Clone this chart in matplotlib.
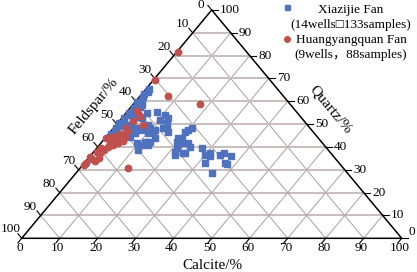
import matplotlib
matplotlib.use("Agg")
import matplotlib.pyplot as plt
from matplotlib.lines import Line2D

# Xiazijie Fan (blue squares): calcite % and quartz %, feldspar = 100 - both
xz_calcite = [0.8, 1.2, 0.6, 1.0, 1.5, 0.7, 1.2, 0.9, 1.6, 0.8, 1.3, 0.7, 1.1, 0.5, 1.4, 0.8, 1.0, 0.6, 1.3,
              0.7, 2.3, 1.5, 3.2, 3.7, 5.3, 3.5, 3.7, 6.2, 8.7, 8.5, 9.7, 11.4, 10.3, 13.2, 9.5, 11.7, 12.9,
              10.7, 12.3, 14.1, 15.2, 20.1, 19.3, 21.7, 21.1, 23.9, 22.1, 2.4, 5.5, 7.8, 10.5, 13.0, 7.6,
              7.0, 5.2, 4.6, 6.8, 6.3, 11.3, 11.3, 12.6, 11.3, 11.1, 19.6, 20.2, 19.6, 20.8, 21.4, 23.0,
              13.2, 24.3, 24.2, 27.7, 30.0, 31.6, 31.6, 33.9, 34.7, 37.0, 37.0, 37.7, 35.9, 20.6, 31.0]
xz_quartz = [65.5, 64.2, 63.0, 61.8, 60.5, 59.5, 58.3, 57.2, 56.0, 55.0, 53.8, 52.6, 51.5, 50.4, 49.2, 48.1, 47.0, 45.8, 44.6,
             59.1, 57.6, 54.8, 53.3, 54.0, 52.6, 51.8, 49.6, 48.2, 47.4, 49.6, 48.2, 47.4, 46.0, 43.8, 41.6, 42.3, 40.9,
             54.0, 52.6, 48.2, 46.7, 47.4, 43.8, 41.6, 39.4, 37.2, 36.5, 58.4, 54.8, 55.5, 51.8, 50.4, 49.6,
             47.4, 47.4, 46.0, 46.0, 44.5, 46.7, 42.3, 42.3, 38.7, 40.9, 46.7, 43.8, 42.3, 40.9, 37.9, 41.6,
             48.2, 39.9, 37.5, 39.4, 36.5, 36.0, 33.2, 36.5, 37.2, 36.2, 33.1, 32.4, 28.5, 48.2, 37.2]

# Huangyangquan Fan (red circles)
hy_calcite = [0.4, 0.4, 7.4, 17.5, 2.4, 7.1, 3.3, 3.0, 1.6, 3.0, 4.5, 5.4, 3.6, 2.4, 2.7, 2.3, 1.9, 0.9,
              2.7, 2.3, 1.2, 0.4, 0.3, 0.2, 12.6, 4.4, 5.0, 2.7, 4.2, 4.3, 3.6, 0.2, 1.1]
hy_quartz = [81.5, 69.3, 62.3, 58.8, 55.8, 49.6, 48.3, 45.7, 44.4, 43.1, 41.7, 42.6, 40.9, 41.7, 40.0, 38.7, 37.4, 37.8,
             35.2, 33.9, 34.7, 33.0, 32.1, 35.6, 30.8, 43.9, 44.4, 44.8, 47.0, 53.6, 51.4, 43.9, 39.6]

ticks = [0, 10, 20, 30, 40, 50, 60, 70, 80, 90, 100]

serif = "Liberation Serif"
mixed = ["Liberation Serif", "Noto Sans CJK SC", "DejaVu Sans"]


def tern(c, q):
    # x = calcite + quartz/2, y = quartz
    return [ci + qi / 2 for ci, qi in zip(c, q)], list(q)


fig = plt.figure(figsize=(4.17, 2.72), dpi=100)
ax = fig.add_axes([0, 0, 1, 1])
ax.set_xlim(-21.7 / 3.8, (417 - 21.7) / 3.8)
ax.set_ylim(-(272 - 238.3) / 2.283, 238.3 / 2.283)
ax.axis("off")

# grid
for v in ticks[1:-1]:
    ax.plot([v / 2, 100 - v / 2], [v, v], color="#c9bdbd", lw=1.4, zorder=1)
    ax.plot([v, v + (100 - v) / 2], [0, 100 - v], color="#aea5a5", lw=0.75, zorder=1)
    ax.plot([100 - v, (100 - v) / 2], [0, 100 - v], color="#aea5a5", lw=0.75, zorder=1)

# triangle
ax.plot([0, 100, 50, 0], [0, 0, 100, 0], color="black", lw=1.1, zorder=2)

# ticks and labels
t = 2.0
for v in ticks:
    # calcite (bottom)
    ax.plot([v, v - 0.5 * t], [0, -t], color="black", lw=0.8)
    ax.text(v - 0.53, -4.4, str(v), ha="center", va="center", fontsize=9.5, family=serif)
    # feldspar (left)
    xd, q = (100 - v) / 2, 100 - v
    ax.plot([xd, xd - 0.5 * t], [q, q + t], color="black", lw=0.8)
    if v == 0:
        ax.text(48.0, 102.2, "0", ha="right", va="center", fontsize=9.5, family=serif)
    elif v == 100:
        ax.text(-0.3, q + 3.9, str(v), ha="right", va="center", fontsize=9.5, family=serif)
    else:
        ax.text(xd - 0.92, q + 3.9, str(v), ha="right", va="center", fontsize=9.5, family=serif)
    # quartz (right)
    xd, q = 100 - v / 2, v
    ax.plot([xd, xd + 1.6], [q, q], color="black", lw=0.8)
    if v == 0:
        ax.text(xd + 1.7, 2.6, "0", ha="left", va="center", fontsize=9.5, family=serif)
    else:
        ax.text(xd + 2.2, q, str(v), ha="left", va="center", fontsize=9.5, family=serif)

ax.text(50.2, -11.7, "Calcite/%", ha="center", va="center", fontsize=11, family=serif)
ax.text(19.0, 57.9, "Feldspar/%", ha="center", va="center", fontsize=11, family=serif, rotation=50.2)
ax.text(81.4, 56.2, "Quartz/%", ha="center", va="center", fontsize=11, family=serif, rotation=-50.2)

# data
bx, by = tern(xz_calcite, xz_quartz)
rx, ry = tern(hy_calcite, hy_quartz)
ax.plot(bx, by, ls="none", marker="s", ms=4.0, color="#4f72be", mec="#4f72be", zorder=3)
ax.plot(rx, ry, ls="none", marker="o", ms=4.6, color="#c0504d", mec="#c0504d", zorder=4)

# legend
ax.add_line(Line2D([69.7], [101.3], ls="none", marker="s", ms=3.6, color="#4f72be", clip_on=False))
ax.add_line(Line2D([69.9], [87.2], ls="none", marker="o", ms=4.0, color="#c0504d", clip_on=False))
ax.text(86.7, 99.8, "Xiazijie Fan", ha="center", va="center", fontsize=9.5, family=mixed)
ax.text(86.7, 93.4, "(14wells\u25a1133samples)", ha="center", va="center", fontsize=9.5, family=mixed)
ax.text(86.7, 86.8, "Huangyangquan Fan", ha="center", va="center", fontsize=9.5, family=mixed)
ax.text(86.7, 80.2, "(9wells\uff0c88samples)", ha="center", va="center", fontsize=9.5, family=mixed)

fig.savefig("out.png", dpi=100)
